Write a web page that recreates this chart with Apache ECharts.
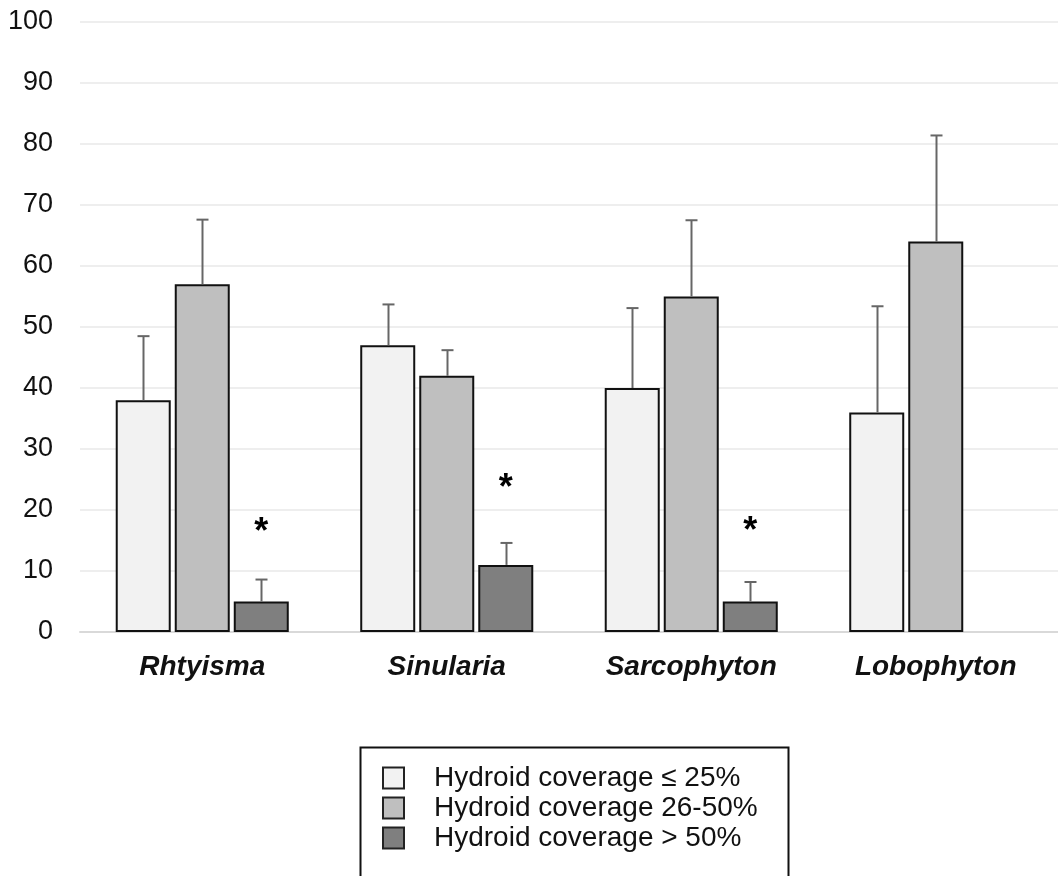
<!DOCTYPE html>
<html>
<head>
<meta charset="utf-8">
<script src="https://cdn.jsdelivr.net/npm/echarts@6/dist/echarts.min.js"></script>
<style>
html,body{margin:0;padding:0;background:#fff;}
#chart{width:1058px;height:876px;}
</style>
</head>
<body>
<div id="chart"></div>
<script>
const categories = ['Rhtyisma', 'Sinularia', 'Sarcophyton', 'Lobophyton'];
const seriesNames = ['Hydroid coverage \u2264 25%', 'Hydroid coverage 26-50%', 'Hydroid coverage > 50%'];
const lowValues = [38, 47, 40, 36];
const midValues = [57, 42, 55, 64];
const highValues = [5, 11, 5, null];
const lowErrTop = [48.5, 53.7, 53.1, 53.4];
const midErrTop = [67.6, 46.2, 67.5, 81.4];
const highErrTop = [8.6, 14.6, 8.2, null];
const starValues = [17.8, 25.0, 18.0, null];

const colors = ['#f2f2f2', '#bfbfbf', '#7f7f7f'];
const BAR_W = 55;
const BAR_GAP = 4;
const offsets = [-(BAR_W + BAR_GAP), 0, (BAR_W + BAR_GAP)];
const FONT = '"Liberation Sans", Arial, sans-serif';

const valueSets = [lowValues, midValues, highValues];
const errSets = [lowErrTop, midErrTop, highErrTop];

const errData = [];
valueSets.forEach(function (vals, s) {
  vals.forEach(function (v, i) {
    if (v != null && errSets[s][i] != null) errData.push([i, v, errSets[s][i], s]);
  });
});
const starData = [];
starValues.forEach(function (v, i) { if (v != null) starData.push([i, v]); });

const chart = echarts.init(document.getElementById('chart'), null, {renderer: 'canvas'});

const barSeries = valueSets.map(function (vals, s) {
  return {
    name: seriesNames[s],
    type: 'bar',
    data: vals,
    barWidth: BAR_W,
    barGap: (BAR_GAP / BAR_W * 100).toFixed(1) + '%',
    itemStyle: {color: colors[s], borderColor: '#111', borderWidth: 2},
    emphasis: {disabled: true},
    z: 2
  };
});

const option = {
  animation: false,
  backgroundColor: '#ffffff',
  textStyle: {fontFamily: FONT},
  grid: {left: 80, top: 22, width: 982, height: 610, containLabel: false},
  xAxis: {
    type: 'category',
    data: categories,
    axisLine: {show: true, lineStyle: {color: '#d9d9d9', width: 2}},
    axisTick: {show: false},
    axisLabel: {
      fontFamily: FONT, fontSize: 28, fontWeight: 'bold', fontStyle: 'italic',
      color: '#111', margin: 21
    },
    splitLine: {show: false}
  },
  yAxis: {
    type: 'value',
    min: 0, max: 100, interval: 10,
    axisLine: {show: false},
    axisTick: {show: false},
    axisLabel: {fontFamily: FONT, fontSize: 27, color: '#111', margin: 27},
    splitLine: {show: true, lineStyle: {color: '#eeeeee', width: 2}}
  },
  legend: {
    orient: 'vertical',
    left: 382, top: 764,
    padding: 0,
    itemWidth: 21, itemHeight: 21, itemGap: 2,
    icon: 'rect',
    itemStyle: {borderColor: '#222', borderWidth: 2},
    textStyle: {fontFamily: FONT, fontSize: 28, color: '#111', padding: [0, 0, 0, 25]},
    selectedMode: false,
    data: seriesNames
  },
  graphic: [{
    type: 'rect',
    left: 358, top: 745,
    shape: {width: 428, height: 160},
    style: {fill: 'none', stroke: '#111', lineWidth: 2},
    silent: true
  }],
  series: barSeries.concat([
    {
      type: 'custom',
      name: 'errors',
      data: errData,
      encode: {x: 0, y: [1, 2]},
      z: 3,
      silent: true,
      renderItem: function (params, api) {
        const base = api.coord([api.value(0), api.value(1)]);
        const top = api.coord([api.value(0), api.value(2)]);
        const x = Math.round(base[0] + offsets[api.value(3)]) + 0.5;
        const style = {stroke: '#666666', lineWidth: 2};
        return {
          type: 'group',
          children: [
            {type: 'line', shape: {x1: x, y1: base[1], x2: x, y2: top[1]}, style: style},
            {type: 'line', shape: {x1: x - 6, y1: top[1], x2: x + 6, y2: top[1]}, style: style}
          ]
        };
      }
    },
    {
      type: 'custom',
      name: 'stars',
      data: starData,
      encode: {x: 0, y: 1},
      z: 4,
      silent: true,
      renderItem: function (params, api) {
        const p = api.coord([api.value(0), api.value(1)]);
        return {
          type: 'text',
          x: p[0] + offsets[2],
          y: p[1] + 10,
          style: {
            text: '*', fontFamily: FONT, fontSize: 36, fontWeight: 'bold', fill: '#000',
            align: 'center', verticalAlign: 'middle'
          }
        };
      }
    }
  ])
};
chart.setOption(option);
</script>
</body>
</html>
